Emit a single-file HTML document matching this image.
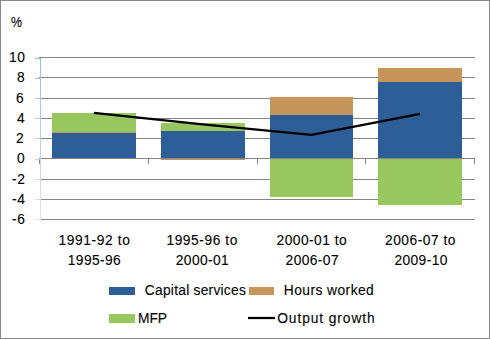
<!DOCTYPE html>
<html><head><meta charset="utf-8">
<style>
html,body{margin:0;padding:0;background:#fff;}
body{width:490px;height:339px;overflow:hidden;position:relative;}
svg{position:absolute;left:0;top:0;}
text{font-family:"Liberation Sans",sans-serif;font-size:13.8px;fill:#000;stroke:#000;stroke-width:0.1px;}
</style></head>
<body>
<svg width="490" height="339" viewBox="0 0 490 339">
<rect x="0.5" y="0.5" width="489" height="338" fill="#fff" stroke="#868686" stroke-width="1"/>
<g shape-rendering="crispEdges" stroke="#868686" stroke-width="1">
<line x1="39" y1="57.5" x2="475" y2="57.5"/>
<line x1="39" y1="77.5" x2="475" y2="77.5"/>
<line x1="39" y1="98.5" x2="475" y2="98.5"/>
<line x1="39" y1="118.5" x2="475" y2="118.5"/>
<line x1="39" y1="138.5" x2="475" y2="138.5"/>
<line x1="39" y1="179.5" x2="475" y2="179.5"/>
<line x1="39" y1="199.5" x2="475" y2="199.5"/>
<line x1="39" y1="219.5" x2="475" y2="219.5"/>
</g>
<g shape-rendering="crispEdges">
<rect x="52" y="113" width="84" height="19" fill="#98C760"/>
<rect x="52" y="132" width="84" height="1" fill="#C6955C"/>
<rect x="52" y="133" width="84" height="25" fill="#2E5E97"/>
<rect x="161" y="123" width="84" height="8" fill="#98C760"/>
<rect x="161" y="131" width="84" height="27" fill="#2E5E97"/>
<rect x="161" y="159" width="84" height="1" fill="#C6955C"/>
<rect x="270" y="97" width="83" height="18" fill="#C6955C"/>
<rect x="270" y="115" width="83" height="43" fill="#2E5E97"/>
<rect x="270" y="159" width="83" height="38" fill="#98C760"/>
<rect x="378" y="68" width="84" height="14" fill="#C6955C"/>
<rect x="378" y="82" width="84" height="76" fill="#2E5E97"/>
<rect x="378" y="159" width="84" height="46" fill="#98C760"/>
</g>
<g shape-rendering="crispEdges" stroke="#868686" stroke-width="1">
<line x1="39" y1="158.5" x2="475" y2="158.5"/>
<line x1="39.5" y1="158" x2="39.5" y2="164"/>
<line x1="148.5" y1="158" x2="148.5" y2="164"/>
<line x1="257.5" y1="158" x2="257.5" y2="164"/>
<line x1="365.5" y1="158" x2="365.5" y2="164"/>
<line x1="474.5" y1="158" x2="474.5" y2="164"/>
</g>
<defs><linearGradient id="ax" gradientUnits="userSpaceOnUse" x1="0" y1="58" x2="0" y2="220"><stop offset="0" stop-color="#9FB9E6"/><stop offset="1" stop-color="#DCE4F4"/></linearGradient></defs>
<g shape-rendering="crispEdges" fill="url(#ax)">
<rect x="40" y="58" width="1" height="162"/>
<rect x="35" y="58" width="6" height="1"/>
<rect x="35" y="78" width="6" height="1"/>
<rect x="35" y="98" width="6" height="1"/>
<rect x="35" y="118" width="6" height="1"/>
<rect x="35" y="138" width="6" height="1"/>
<rect x="35" y="159" width="6" height="1"/>
<rect x="35" y="179" width="6" height="1"/>
<rect x="35" y="199" width="6" height="1"/>
<rect x="35" y="219" width="6" height="1"/>
</g>
<polyline points="93.9,112.8 202.6,124.3 311.4,134.9 420.1,113.9" fill="none" stroke="#000" stroke-width="2.25" stroke-linejoin="round"/>
<text transform="translate(11.00,27) scale(0.9,1)" x="0" y="0">%</text>
<text x="9.00" y="62" textLength="16.00" lengthAdjust="spacing">10</text>
<text x="17.00" y="82">8</text>
<text x="16.00" y="103">6</text>
<text x="17.00" y="123">4</text>
<text x="16.00" y="143">2</text>
<text x="17.00" y="163">0</text>
<text x="12.00" y="184" textLength="13.00" lengthAdjust="spacing">-2</text>
<text x="12.00" y="204" textLength="13.00" lengthAdjust="spacing">-4</text>
<text x="12.00" y="224" textLength="13.00" lengthAdjust="spacing">-6</text>
<text x="58.40" y="245" textLength="71.50" lengthAdjust="spacing">1991-92 to</text>
<text x="67.80" y="265" textLength="53.00" lengthAdjust="spacing">1995-96</text>
<text x="166.40" y="245" textLength="71.00" lengthAdjust="spacing">1995-96 to</text>
<text x="175.80" y="265" textLength="53.00" lengthAdjust="spacing">2000-01</text>
<text x="276.60" y="245" textLength="70.00" lengthAdjust="spacing">2000-01 to</text>
<text x="285.60" y="265" textLength="53.00" lengthAdjust="spacing">2006-07</text>
<text x="385.00" y="245" textLength="70.50" lengthAdjust="spacing">2006-07 to</text>
<text x="394.40" y="265" textLength="53.00" lengthAdjust="spacing">2009-10</text>
<text x="144.80" y="295" textLength="101.00" lengthAdjust="spacing">Capital services</text>
<text x="283.80" y="295" textLength="90.00" lengthAdjust="spacing">Hours worked</text>
<text x="138.00" y="323" textLength="29.00" lengthAdjust="spacing">MFP</text>
<text x="277.20" y="323" textLength="97.50" lengthAdjust="spacing">Output growth</text>
<rect x="109" y="287" width="26" height="8" fill="#2E5E97" shape-rendering="crispEdges"/>
<rect x="249" y="287" width="25" height="8" fill="#C6955C" shape-rendering="crispEdges"/>
<rect x="109" y="314" width="26" height="9" fill="#98C760" shape-rendering="crispEdges"/>
<line x1="248" y1="318" x2="275" y2="318" stroke="#000" stroke-width="2.25"/>
</svg>
</body></html>
